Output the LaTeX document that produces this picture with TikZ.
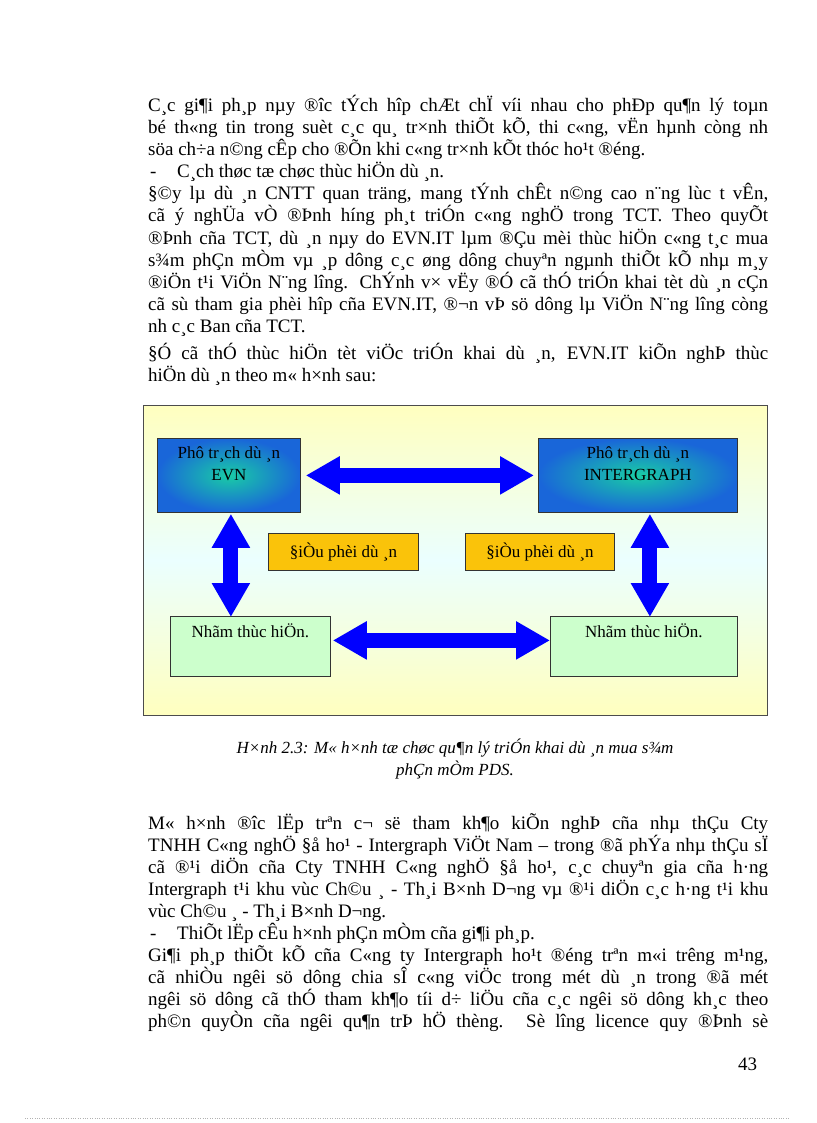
\documentclass[tikz,border=0pt]{standalone}
\usepackage{fontspec}
\setmainfont{Liberation Serif}
\usetikzlibrary{arrows.meta}
\begin{document}
\begin{tikzpicture}[x=1pt,y=-1pt,
  ln/.style={anchor=base west,inner sep=0pt,font=\fontsize{19}{22}\selectfont},
  bx/.style={draw=black!80,line width=0.8pt,align=center,font=\fontsize{17}{22}\selectfont,inner sep=0pt},
  tx/.style={align=center,font=\fontsize{17}{22}\selectfont,anchor=north},
  fat/.style={draw=blue,line width=15pt,{Triangle[length=34pt,width=36pt]}-{Triangle[length=34pt,width=36pt]},blue}]
\useasboundingbox (0,0) rectangle (816,1123);
\fill[white] (0,0) rectangle (816,1123);
\newcommand{\J}[1]{\makebox[620pt][s]{#1}}
\node[ln] (l1) at (148,112) {\J{C¸c gi¶i ph¸p nµy ®îc  tÝch hîp chÆt chÏ víi nhau cho phÐp qu¶n lý toµn}};
\node[ln] (l2) at (148,134) {\J{bé th«ng tin trong suèt c¸c qu¸ tr×nh thiÕt kÕ, thi c«ng, vËn hµnh còng nh}};
\node[ln] (l3) at (148,156) {söa ch÷a n©ng cÊp cho ®Õn khi c«ng tr×nh kÕt thóc ho¹t ®éng.};
\node[ln] (l4a) at (150,178) {-};
\node[ln] (l4) at (177,178) {C¸ch thøc tæ chøc thùc hiÖn dù ¸n.};
\node[ln] (l5) at (148,200) {\J{§©y lµ dù ¸n CNTT quan träng, mang tÝnh chÊt n©ng cao n¨ng lùc t  vÊn,}};
\node[ln] (l6) at (148,222) {\J{cã ý nghÜa vÒ ®Þnh híng  ph¸t triÓn  c«ng nghÖ  trong TCT. Theo quyÕt}};
\node[ln] (l7) at (148,244) {\J{®Þnh cña TCT, dù ¸n nµy do EVN.IT lµm ®Çu mèi thùc hiÖn c«ng t¸c mua}};
\node[ln] (l8) at (148,266) {\J{s¾m phÇn mÒm vµ ¸p dông c¸c øng dông chuyªn ngµnh thiÕt kÕ nhµ m¸y}};
\node[ln] (l9) at (148,288) {\J{®iÖn t¹i ViÖn N¨ng lîng.  ChÝnh v× vËy ®Ó cã thÓ triÓn khai tèt dù ¸n cÇn}};
\node[ln] (l10) at (148,310) {\J{cã sù tham gia phèi hîp cña EVN.IT, ®¬n vÞ sö dông lµ ViÖn N¨ng lîng  còng}};
\node[ln] (l11) at (148,332) {nh  c¸c Ban cña TCT.};
\node[ln] (l12) at (148,359) {\J{§Ó cã thÓ thùc hiÖn tèt viÖc triÓn khai dù ¸n, EVN.IT kiÕn nghÞ thùc}};
\node[ln] (l13) at (148,381) {hiÖn dù ¸n theo m« h×nh sau:};
% diagram
\draw[black!70,line width=1pt,shading=axis,shading angle=45,top color=yellow!25,bottom color=yellow!25,middle color=cyan!8] (143,405) rectangle (767,715);
\node[bx,minimum width=143,minimum height=74,anchor=north west,shading=radial,inner color={rgb,1:red,0.1;green,0.8;blue,0.65},outer color={rgb,1:red,0.1;green,0.4;blue,0.85}] (evn) at (157,438) {};
\node[tx] at ([yshift=-5]evn.north) {Phô tr¸ch dù ¸n\\EVN};
\node[bx,minimum width=199,minimum height=74,anchor=north west,shading=radial,inner color={rgb,1:red,0.1;green,0.8;blue,0.65},outer color={rgb,1:red,0.1;green,0.4;blue,0.85}] (ig) at (538,438) {};
\node[tx] at ([yshift=-5]ig.north) {Phô tr¸ch dù ¸n\\INTERGRAPH};
\node[bx,fill={rgb,255:red,250;green,195;blue,10},minimum width=150,minimum height=37,anchor=north west] (o1) at (268,533) {§iÒu phèi dù ¸n};
\node[bx,fill={rgb,255:red,250;green,195;blue,10},minimum width=149,minimum height=37,anchor=north west] (o2) at (465,533) {§iÒu phèi dù ¸n};
\node[bx,fill={rgb,255:red,204;green,255;blue,204},minimum width=160,minimum height=60,anchor=north west] (g1) at (170,616) {};
\node[tx] at ([yshift=-4]g1.north) {Nhãm thùc hiÖn.};
\node[bx,fill={rgb,255:red,204;green,255;blue,204},minimum width=187,minimum height=60,anchor=north west] (g2) at (550,616) {};
\node[tx] at ([yshift=-4]g2.north) {Nhãm thùc hiÖn.};
\draw[fat] ([xshift=5]evn.east) -- ([xshift=-4]ig.west);
\draw[fat] ([xshift=2,yshift=6]g1.east) -- ([yshift=6]g2.west);
\draw[fat] ([xshift=2,yshift=-1]evn.south) -- ([xshift=2,yshift=-1]evn.south |- g1.north);
\draw[fat] ([xshift=12,yshift=-1]ig.south) -- ([xshift=12,yshift=-1]ig.south |- g2.north);
% caption
\node[anchor=base,font=\itshape\fontsize{17}{20}\selectfont] (c1) at (455,753) {H×nh 2.3: M« h×nh tæ chøc qu¶n lý triÓn khai dù ¸n mua s¾m};
\node[anchor=base,font=\itshape\fontsize{17}{20}\selectfont] (c2) at (455,775) {phÇn mÒm PDS.};
% lower text
\node[ln] (m1) at (148,829) {\J{M« h×nh ®îc  lËp trªn c¬ së tham kh¶o kiÕn nghÞ cña nhµ thÇu Cty}};
\node[ln] (m2) at (148,851) {\J{TNHH C«ng nghÖ §å ho¹ - Intergraph ViÖt Nam – trong ®ã phÝa nhµ thÇu sÏ}};
\node[ln] (m3) at (148,873) {\J{cã ®¹i diÖn cña Cty TNHH C«ng nghÖ §å ho¹, c¸c chuyªn gia cña h·ng}};
\node[ln] (m4) at (148,895) {\J{Intergraph t¹i khu vùc Ch©u ¸ - Th¸i B×nh D¬ng  vµ ®¹i diÖn c¸c h·ng t¹i khu}};
\node[ln] (m5) at (148,917) {vùc Ch©u ¸ - Th¸i B×nh D¬ng.};
\node[ln] (m6a) at (150,939) {-};
\node[ln] (m6) at (177,939) {ThiÕt lËp cÊu h×nh phÇn mÒm cña gi¶i ph¸p.};
\node[ln] (m7) at (148,961) {\J{Gi¶i ph¸p thiÕt kÕ cña C«ng ty Intergraph ho¹t ®éng trªn m«i trêng  m¹ng,}};
\node[ln] (m8) at (148,983) {\J{cã nhiÒu ngêi  sö dông chia sÎ c«ng viÖc trong mét dù ¸n trong ®ã mét}};
\node[ln] (m9) at (148,1005) {\J{ngêi  sö dông cã thÓ tham kh¶o tíi d÷ liÖu cña c¸c ngêi  sö dông kh¸c theo}};
\node[ln] (m10) at (148,1027) {\J{ph©n quyÒn cña ngêi  qu¶n trÞ hÖ thèng. Sè lîng  licence quy ®Þnh sè}};
\node[ln] (pg) at (738,1070) {43};
\draw[black!30,dotted] (25,1118) -- (790,1118);
\end{tikzpicture}
\end{document}
